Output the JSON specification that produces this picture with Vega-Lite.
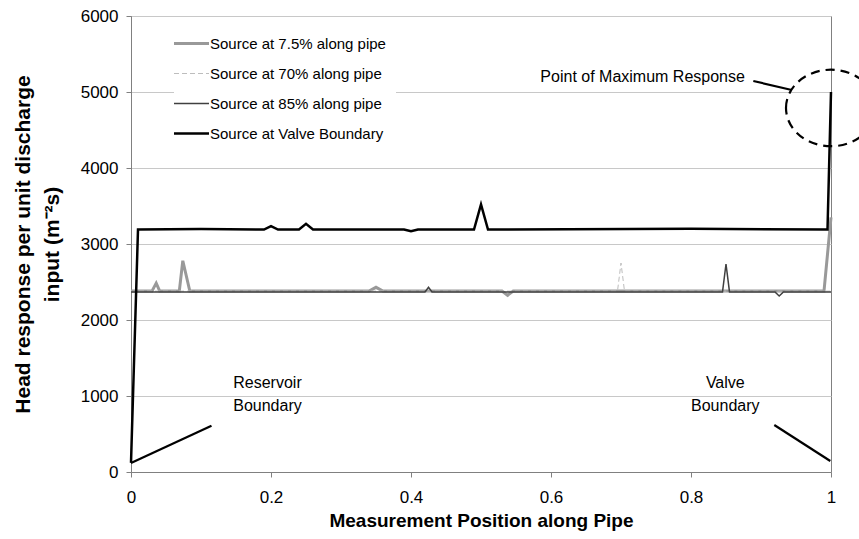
{
  "$schema": "https://vega.github.io/schema/vega-lite/v6.json",
  "width": 700,
  "height": 456,
  "autosize": {"type": "none"},
  "padding": {"left": 131, "top": 16, "right": 28, "bottom": 67},
  "background": "white",
  "config": {
    "font": "Liberation Sans",
    "view": {"stroke": "#808080", "strokeWidth": 1},
    "legend": {
      "orient": "none",
      "legendX": 43,
      "legendY": 10,
      "padding": 10,
      "fillColor": "white",
      "symbolType": "stroke",
      "symbolSize": 1225,
      "rowPadding": 14,
      "labelFontSize": 15,
      "labelFont": "Liberation Sans",
      "labelColor": "black",
      "labelOffset": 11,
      "labelLimit": 300
    }
  },
  "datasets": {
    "series": [
      {"series": "Source at 7.5% along pipe", "pos": 0, "value": 2380},
      {"series": "Source at 7.5% along pipe", "pos": 0.03, "value": 2380},
      {"series": "Source at 7.5% along pipe", "pos": 0.036, "value": 2485},
      {"series": "Source at 7.5% along pipe", "pos": 0.041, "value": 2380},
      {"series": "Source at 7.5% along pipe", "pos": 0.069, "value": 2380},
      {"series": "Source at 7.5% along pipe", "pos": 0.074, "value": 2780},
      {"series": "Source at 7.5% along pipe", "pos": 0.084, "value": 2380},
      {"series": "Source at 7.5% along pipe", "pos": 0.34, "value": 2380},
      {"series": "Source at 7.5% along pipe", "pos": 0.35, "value": 2430},
      {"series": "Source at 7.5% along pipe", "pos": 0.36, "value": 2380},
      {"series": "Source at 7.5% along pipe", "pos": 0.53, "value": 2380},
      {"series": "Source at 7.5% along pipe", "pos": 0.538, "value": 2325},
      {"series": "Source at 7.5% along pipe", "pos": 0.546, "value": 2380},
      {"series": "Source at 7.5% along pipe", "pos": 0.99, "value": 2380},
      {"series": "Source at 7.5% along pipe", "pos": 1, "value": 3350},
      {"series": "Source at 70% along pipe", "pos": 0, "value": 2380},
      {"series": "Source at 70% along pipe", "pos": 0.695, "value": 2380},
      {"series": "Source at 70% along pipe", "pos": 0.7, "value": 2750},
      {"series": "Source at 70% along pipe", "pos": 0.705, "value": 2380},
      {"series": "Source at 70% along pipe", "pos": 1, "value": 2380},
      {"series": "Source at 85% along pipe", "pos": 0, "value": 2370},
      {"series": "Source at 85% along pipe", "pos": 0.42, "value": 2370},
      {"series": "Source at 85% along pipe", "pos": 0.425, "value": 2430},
      {"series": "Source at 85% along pipe", "pos": 0.43, "value": 2370},
      {"series": "Source at 85% along pipe", "pos": 0.845, "value": 2370},
      {"series": "Source at 85% along pipe", "pos": 0.85, "value": 2737},
      {"series": "Source at 85% along pipe", "pos": 0.855, "value": 2370},
      {"series": "Source at 85% along pipe", "pos": 0.92, "value": 2370},
      {"series": "Source at 85% along pipe", "pos": 0.926, "value": 2316},
      {"series": "Source at 85% along pipe", "pos": 0.932, "value": 2370},
      {"series": "Source at 85% along pipe", "pos": 1, "value": 2370},
      {"series": "Source at Valve Boundary", "pos": 0, "value": 120},
      {"series": "Source at Valve Boundary", "pos": 0.01, "value": 3190},
      {"series": "Source at Valve Boundary", "pos": 0.1, "value": 3198},
      {"series": "Source at Valve Boundary", "pos": 0.19, "value": 3190},
      {"series": "Source at Valve Boundary", "pos": 0.2, "value": 3235},
      {"series": "Source at Valve Boundary", "pos": 0.21, "value": 3190},
      {"series": "Source at Valve Boundary", "pos": 0.24, "value": 3190},
      {"series": "Source at Valve Boundary", "pos": 0.25, "value": 3265},
      {"series": "Source at Valve Boundary", "pos": 0.26, "value": 3190},
      {"series": "Source at Valve Boundary", "pos": 0.39, "value": 3190},
      {"series": "Source at Valve Boundary", "pos": 0.4, "value": 3168},
      {"series": "Source at Valve Boundary", "pos": 0.41, "value": 3190},
      {"series": "Source at Valve Boundary", "pos": 0.49, "value": 3190},
      {"series": "Source at Valve Boundary", "pos": 0.5, "value": 3520},
      {"series": "Source at Valve Boundary", "pos": 0.51, "value": 3190},
      {"series": "Source at Valve Boundary", "pos": 0.8, "value": 3200},
      {"series": "Source at Valve Boundary", "pos": 0.995, "value": 3190},
      {"series": "Source at Valve Boundary", "pos": 1, "value": 5000}
    ],
    "maxLabel": [
      {"pos": 0.877, "value": 5197, "label": "Point of Maximum Response"}
    ],
    "boundaryLabels": [
      {"pos": 0.195, "value": 1170, "label": "Reservoir"},
      {"pos": 0.195, "value": 870, "label": "Boundary"},
      {"pos": 0.849, "value": 1170, "label": "Valve"},
      {"pos": 0.849, "value": 870, "label": "Boundary"}
    ],
    "leaders": [
      {"pos": 0.889, "value": 5145, "pos2": 0.944, "value2": 5026},
      {"pos": 0, "value": 118, "pos2": 0.115, "value2": 610},
      {"pos": 0.919, "value": 618, "pos2": 0.999, "value2": 145}
    ],
    "circle": [
      {"pos": 1, "value": 4790}
    ]
  },
  "encoding": {
    "x": {
      "field": "pos",
      "type": "quantitative",
      "scale": {"domain": [0, 1], "nice": false, "zero": false},
      "axis": {
        "title": "Measurement Position along Pipe",
        "values": [0, 0.2, 0.4, 0.6, 0.8, 1],
        "format": "~g",
        "grid": false,
        "domainColor": "#808080",
        "tickColor": "#808080",
        "tickSize": 5,
        "labelFontSize": 17,
        "labelColor": "black",
        "labelPadding": 12,
        "labelFlush": false,
        "titleFontSize": 19,
        "titleFontWeight": "bold",
        "titleColor": "black",
        "titlePadding": 6
      }
    },
    "y": {
      "field": "value",
      "type": "quantitative",
      "scale": {"domain": [0, 6000], "nice": false},
      "axis": {
        "title": ["Head response per unit discharge", "input (m⁻²s)"],
        "values": [0, 1000, 2000, 3000, 4000, 5000, 6000],
        "format": "d",
        "grid": true,
        "gridColor": "#c8c8c8",
        "domainColor": "#808080",
        "tickColor": "#808080",
        "tickSize": 5,
        "labelFontSize": 17,
        "labelColor": "black",
        "labelPadding": 8,
        "labelFlush": false,
        "titleFontSize": 21,
        "titleFontWeight": "bold",
        "titleColor": "black",
        "titleAngle": -90,
        "titleAlign": "center",
        "titleBaseline": "top",
        "titleLineHeight": 29,
        "titleX": -119,
        "titleY": 228
      }
    }
  },
  "layer": [
    {
      "data": {"name": "series"},
      "transform": [{"filter": "datum.series === 'Source at 7.5% along pipe'"}],
      "mark": {"type": "line", "clip": false, "strokeWidth": 3},
      "encoding": {
        "color": {
          "field": "series",
          "type": "nominal",
          "scale": {"domain": ["Source at 7.5% along pipe", "Source at 70% along pipe", "Source at 85% along pipe", "Source at Valve Boundary"], "range": ["#999999", "#bdbdbd", "#404040", "#000000"]},
          "legend": {
            "title": null,
            "encode": {
              "symbols": {
                "update": {
                  "strokeWidth": {"signal": "datum.value === 'Source at 7.5% along pipe' ? 3 : datum.value === 'Source at 70% along pipe' ? 1 : datum.value === 'Source at 85% along pipe' ? 1.5 : 2.5"},
                  "strokeDash": {"signal": "datum.value === 'Source at 70% along pipe' ? [5, 3] : [1, 0]"}
                }
              }
            }
          }
        }
      }
    },
    {
      "data": {"name": "series"},
      "transform": [{"filter": "datum.series === 'Source at 70% along pipe'"}],
      "mark": {"type": "line", "clip": false, "strokeWidth": 1, "strokeDash": [5, 3]},
      "encoding": {
        "color": {"field": "series", "type": "nominal"}
      }
    },
    {
      "data": {"name": "series"},
      "transform": [{"filter": "datum.series === 'Source at 85% along pipe'"}],
      "mark": {"type": "line", "clip": false, "strokeWidth": 1.5},
      "encoding": {
        "color": {"field": "series", "type": "nominal"}
      }
    },
    {
      "data": {"name": "series"},
      "transform": [{"filter": "datum.series === 'Source at Valve Boundary'"}],
      "mark": {"type": "line", "clip": false, "strokeWidth": 2.5},
      "encoding": {
        "color": {"field": "series", "type": "nominal"}
      }
    },
    {
      "data": {"name": "leaders"},
      "mark": {"type": "rule", "color": "black", "strokeWidth": 2.2, "clip": false},
      "encoding": {
        "x2": {"field": "pos2"},
        "y2": {"field": "value2"}
      }
    },
    {
      "data": {"name": "circle"},
      "mark": {
        "type": "point",
        "shape": "M -1 0 A 1 0.85 0 1 1 1 0 A 1 0.85 0 1 1 -1 0 Z",
        "size": 8100,
        "filled": false,
        "stroke": "black",
        "strokeWidth": 2.2,
        "strokeDash": [9, 6],
        "opacity": 1,
        "clip": false
      },
      "encoding": {}
    },
    {
      "data": {"name": "maxLabel"},
      "mark": {"type": "text", "align": "right", "baseline": "middle", "fontSize": 16, "font": "Liberation Sans", "color": "black"},
      "encoding": {"text": {"field": "label"}}
    },
    {
      "data": {"name": "boundaryLabels"},
      "mark": {"type": "text", "align": "center", "baseline": "middle", "fontSize": 16, "font": "Liberation Sans", "color": "black"},
      "encoding": {"text": {"field": "label"}}
    }
  ]
}
